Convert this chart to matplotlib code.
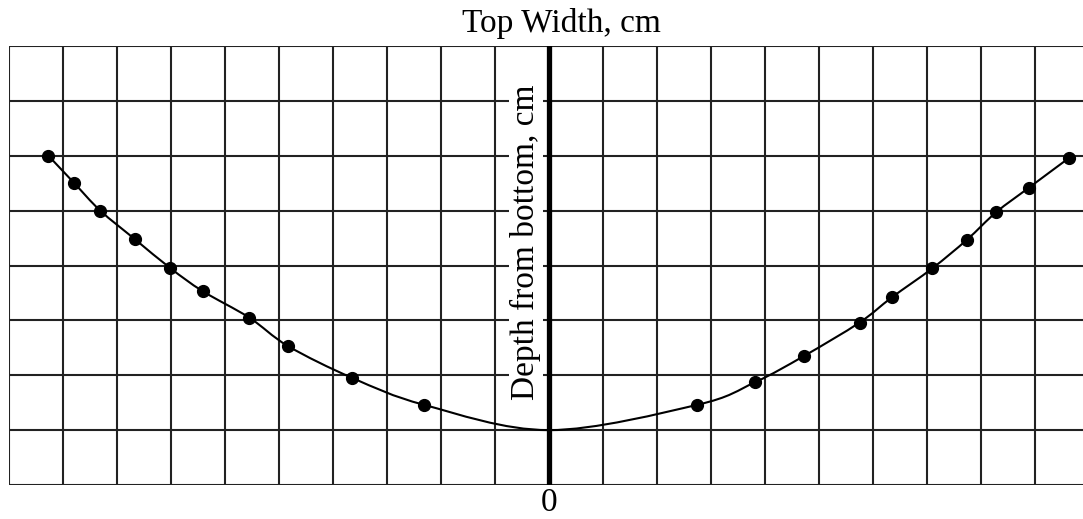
import matplotlib
matplotlib.use("Agg")
import matplotlib.pyplot as plt
from matplotlib.path import Path
from matplotlib.patches import PathPatch

plt.rcParams['font.family'] = ['Liberation Serif', 'DejaVu Serif']

# measured profile: half top width (cm, negative = left bank) vs depth from bottom (cm)
left_width = [-9.27, -8.80, -8.31, -7.67, -7.01, -6.41, -5.55, -4.83, -3.64, -2.31]
left_depth = [5.00, 4.51, 4.00, 3.48, 2.95, 2.53, 2.05, 1.53, 0.95, 0.46]
right_width = [2.74, 3.81, 4.72, 5.75, 6.35, 7.10, 7.74, 8.28, 8.89, 9.63]
right_depth = [0.46, 0.87, 1.35, 1.96, 2.42, 2.95, 3.47, 3.97, 4.42, 4.96]
bottom_point = (0.0, 0.0)

xs = left_width + [bottom_point[0]] + right_width
ys = left_depth + [bottom_point[1]] + right_depth

fig = plt.figure(figsize=(10.83, 5.19), dpi=100)
ax = fig.add_axes([9 / 1083, 34 / 519, 1080 / 1083, 439 / 519])
ax.set_xlim(-10, 10)
ax.set_ylim(-1, 7)

grid_color = '#222222'
for gx in range(-10, 11):
    ax.axvline(gx, color=grid_color, lw=1.5, zorder=1)
for gy in range(-1, 8):
    ax.axhline(gy, color=grid_color, lw=1.5, zorder=1)
for s in ax.spines.values():
    s.set_visible(False)
ax.set_xticks([])
ax.set_yticks([])

# thick centre axis
ax.axvline(0, color='black', lw=3.8, zorder=3)

# smooth curve through the points (Catmull-Rom as cubic Bezier segments)
pts = list(zip(xs, ys))
verts = [pts[0]]
codes = [Path.MOVETO]
for i in range(len(pts) - 1):
    p0 = pts[i - 1] if i > 0 else pts[i]
    p1 = pts[i]
    p2 = pts[i + 1]
    p3 = pts[i + 2] if i + 2 < len(pts) else pts[i + 1]
    c1 = (p1[0] + (p2[0] - p0[0]) / 6, p1[1] + (p2[1] - p0[1]) / 6)
    c2 = (p2[0] - (p3[0] - p1[0]) / 6, p2[1] - (p3[1] - p1[1]) / 6)
    verts += [c1, c2, p2]
    codes += [Path.CURVE4] * 3
ax.add_patch(PathPatch(Path(verts, codes), fill=False, edgecolor='black', lw=1.5, zorder=4))

ax.plot(left_width + right_width, left_depth + right_depth, 'o', color='black',
        markersize=8.5, zorder=5)

ax.text(-0.43, 3.42, 'Depth from bottom, cm', rotation=90, fontsize=24,
        ha='center', va='center', zorder=6,
        bbox=dict(facecolor='white', edgecolor='none', pad=1))

fig.text(561 / 1083, 1 - 32 / 519, 'Top Width, cm', fontsize=24,
         ha='center', va='baseline')
fig.text(549 / 1083, 1 / 519, '0', fontsize=24, ha='center', va='bottom')

fig.savefig('out.png', dpi=100)
